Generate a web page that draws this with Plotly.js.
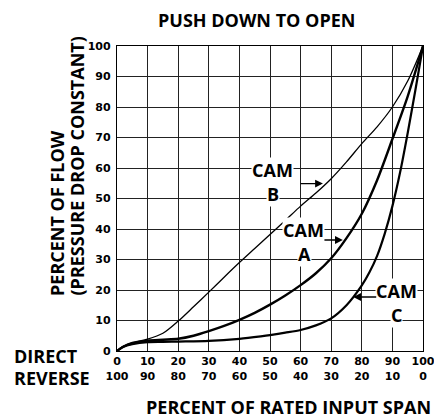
<!DOCTYPE html>
<html>
<head>
<meta charset="utf-8">
<script src="https://cdn.plot.ly/plotly-3.0.1.min.js"></script>
<style>html,body{margin:0;padding:0;background:#fff;}#chart{width:434px;height:418px;}</style>
</head>
<body>
<div id="chart"></div>
<script>
// ---- data ----
const camB_x = [0,2,5,10,15,20,25,30,35,40,45,50,55,60,65,70,75,80,85,90,95,100];
const camB_y = [0,1.5,2.8,3.9,5.8,9.8,14.5,19.3,24.2,29,33.6,38.2,42.8,47.5,51.8,56.5,62,68,73.5,80,88.5,100];

const camA_x = [0,2,5,10,15,20,25,30,35,40,45,50,55,60,65,70,75,80,85,90,95,100];
const camA_y = [0,1.4,2.5,3.4,3.7,4.0,5.0,6.5,8.2,10.2,12.5,15.2,18.2,21.6,25.5,30.4,37,45,56,69.5,83.5,100];

const camC_x = [0,2,5,10,15,20,30,40,47,50,55,60,65,70,75,80,82.5,85,87.5,90,92.5,95,97.5,100];
const camC_y = [0,1.3,2.2,2.9,3.0,3.1,3.3,4.0,4.8,5.2,6.0,6.9,8.4,10.7,15,21.5,25.8,31.2,38.5,47.5,58.5,71.5,85.5,100];

const tickVals = [0,10,20,30,40,50,60,70,80,90,100];
const directLabels = ['0','10','20','30','40','50','60','70','80','90','100'];
const reverseLabels = ['100','90','80','70','60','50','40','30','20','10','0'];
const yTickLabels = ['0','10','20','30','40','50','60','70','80','90','100'];

// ---- chart ----
const tickFont = {family: 'DejaVu Sans', size: 11, color: '#000', weight: 'bold'};
const labFont = {family: 'Open Sans', size: 18, color: '#000', weight: 'bold'};
const lineStyle = (w) => ({color: '#000', width: w, shape: 'spline', smoothing: 0.8});

const traces = [
  {x: camB_x, y: camB_y, mode: 'lines', line: lineStyle(1.3), hoverinfo: 'skip'},
  {x: camA_x, y: camA_y, mode: 'lines', line: lineStyle(2.4), hoverinfo: 'skip'},
  {x: camC_x, y: camC_y, mode: 'lines', line: lineStyle(2.2), hoverinfo: 'skip'}
];

const W = 306, H = 305, L = 117, T = 46;
const px = (p) => (p - L) / W;
const py = (p) => (T + H - p) / H;

function lab(text, x, y, extra) {
  return Object.assign({text: text, x: x, y: y, xref: 'x', yref: 'y', showarrow: false,
    font: labFont, bgcolor: '#fff', borderpad: 0, xanchor: 'center', yanchor: 'middle'}, extra || {});
}
function arrow(x0, x1, y) {
  return {x: x1, y: y, ax: x0, ay: y, xref: 'x', yref: 'y', axref: 'x', ayref: 'y',
    text: '', showarrow: true, arrowhead: 2, arrowsize: 1.2, arrowwidth: 1.3, arrowcolor: '#000'};
}

const annotations = [
  {text: 'PUSH DOWN TO OPEN', x: px(256), y: py(20), xref: 'paper', yref: 'paper', showarrow: false,
    font: labFont, xanchor: 'center', yanchor: 'middle'},
  {text: 'PERCENT OF RATED INPUT SPAN', x: px(288), y: py(407), xref: 'paper', yref: 'paper', showarrow: false,
    font: labFont, xanchor: 'center', yanchor: 'middle'},
  {text: 'DIRECT', x: px(12), y: py(356), xref: 'paper', yref: 'paper', showarrow: false,
    font: labFont, xanchor: 'left', yanchor: 'middle'},
  {text: 'REVERSE', x: px(12), y: py(378), xref: 'paper', yref: 'paper', showarrow: false,
    font: labFont, xanchor: 'left', yanchor: 'middle'},
  {text: 'PERCENT OF FLOW', x: px(57), y: py(298), xref: 'paper', yref: 'paper', showarrow: false,
    font: labFont, textangle: -90, xanchor: 'center', yanchor: 'bottom'},
  {text: '(PRESSURE DROP CONSTANT)', x: px(76), y: py(298), xref: 'paper', yref: 'paper', showarrow: false,
    font: labFont, textangle: -90, xanchor: 'center', yanchor: 'bottom'},
  lab('CAM', 50.7, 59.2), lab('B', 50.9, 51.4),
  arrow(59.5, 67.3, 54.9),
  lab('CAM', 61.1, 39.6), lab('A', 61.4, 31.8),
  arrow(67.3, 73.8, 36.4),
  lab('CAM', 91.5, 19.6), lab('C', 91.5, 11.8),
  arrow(85.2, 77.2, 17.7)
];

const layout = {
  width: 434, height: 418,
  margin: {l: L, r: 434 - L - W, t: T, b: 418 - T - H, pad: 0},
  paper_bgcolor: '#fff', plot_bgcolor: '#fff',
  showlegend: false,
  xaxis: {range: [0, 100], tickvals: tickVals,
    ticktext: directLabels.map((d, i) => d + '<br>' + reverseLabels[i]),
    showgrid: true, gridcolor: '#222', gridwidth: 1, zeroline: false,
    showline: true, linecolor: '#000', linewidth: 1.2, mirror: true,
    ticks: '', tickfont: tickFont, ticklabeloverflow: 'allow', fixedrange: true},
  yaxis: {range: [0, 100], tickvals: tickVals, ticktext: yTickLabels,
    showgrid: true, gridcolor: '#222', gridwidth: 1, zeroline: false,
    showline: true, linecolor: '#000', linewidth: 1.2, mirror: true,
    ticks: '', tickfont: tickFont, ticklabelstandoff: 3, ticklabeloverflow: 'allow', fixedrange: true},
  annotations: annotations
};

Plotly.newPlot('chart', traces, layout, {staticPlot: true, displayModeBar: false});
</script>
</body>
</html>
